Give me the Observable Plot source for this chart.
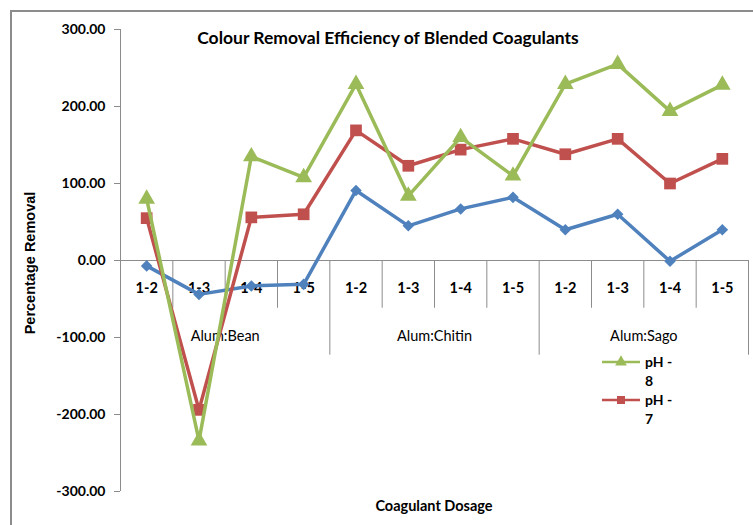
<!DOCTYPE html>
<html>
<head>
<meta charset="utf-8">
<script src="https://cdn.jsdelivr.net/npm/d3@7"></script>
<script src="https://cdn.jsdelivr.net/npm/@observablehq/plot@0.6"></script>
<style>
  body { margin: 0; background: #fff; font-family: Lato, "Open Sans", sans-serif; }
  #wrap { position: relative; width: 753px; height: 525px; overflow: hidden; }
  #frame { position: absolute; left: 10px; top: 10px; width: 800px; height: 600px; border: 2px solid #8c8c8c; box-sizing: border-box; }
  .abs { position: absolute; color: #000; white-space: nowrap; }
  #title { left: 0; width: 776px; top: 27px; text-align: center; font-weight: 700; font-size: 17.5px; }
  #ylab { left: 30px; top: 263px; transform: translate(-50%, -50%) rotate(-90deg); font-family: "Liberation Sans", Arial, sans-serif; font-weight: 700; font-size: 14.5px; }
  #xlab { left: 434px; top: 505px; transform: translate(-50%, -50%); font-weight: 700; font-size: 14.5px; }
  #legend { left: 600px; top: 352px; font-size: 14px; font-weight: 700; }
  .item { display: flex; align-items: flex-start; height: 38px; }
  .item svg { margin-top: 3px; }
  .item span { line-height: 19px; margin-left: 3px; }
  #chart { position: absolute; left: 0; top: 0; }
</style>
</head>
<body>
<div id="wrap">
  <div id="frame"></div>
  <div id="chart"></div>
  <div class="abs" id="title">Colour Removal Efficiency of Blended Coagulants</div>
  <div class="abs" id="ylab">Percentage Removal</div>
  <div class="abs" id="xlab">Coagulant Dosage</div>
  <div class="abs" id="legend"></div>
</div>
<script>
const categories = ["1-2","1-3","1-4","1-5","1-2","1-3","1-4","1-5","1-2","1-3","1-4","1-5"];
const groups = ["Alum:Bean","Alum:Chitin","Alum:Sago"];
const ph8 = [80, -234, 135, 108, 229, 84, 160, 110, 229, 255, 194, 228];
const ph7 = [55, -194, 56, 60, 169, 123, 144, 158, 138, 158, 100, 132];
const ph6 = [-7, -44, -33, -31, 91, 45, 67, 82, 40, 60, -1, 40];
const yTicks = [-300, -200, -100, 0, 100, 200, 300];

const series = [
  {name: "pH - 6", values: ph6, color: "#4F81BD", symbol: "diamond2", r: 5.2, legend: false},
  {name: "pH - 7", values: ph7, color: "#C0504D", symbol: "square", r: 6.6, legend: true},
  {name: "pH - 8", values: ph8, color: "#9BBB59", symbol: "triangle", r: 6.2, legend: true}
];
const data = series.flatMap(s => s.values.map((v, i) => ({i, v, series: s.name, color: s.color, symbol: s.symbol, r: s.r})));

const catBounds = d3.range(1, 13).filter(b => b % 4 !== 0);
const groupBounds = [4, 8, 12];

const marks = [
  Plot.ruleX([0], {y1: -300, y2: 300, stroke: "#8c8c8c", strokeWidth: 1}),
  Plot.ruleY([0], {x1: 0, x2: 12, stroke: "#8c8c8c", strokeWidth: 1}),
  Plot.ruleX(catBounds, {x: d => d, y1: 0, y2: -62, stroke: "#8c8c8c", strokeWidth: 1}),
  Plot.ruleX(groupBounds, {x: d => d, y1: 0, y2: -123, stroke: "#8c8c8c", strokeWidth: 1}),
  Plot.axisY({ticks: yTicks, tickFormat: d => d.toFixed(2), tickSize: 6, tickPadding: 9, stroke: "#8c8c8c", fill: "#000", fontWeight: 700, fontSize: 14, label: null}),
  Plot.text(categories, {x: (d, i) => i + 0.5, y: () => 0, dy: 28, text: d => d, fontSize: 14.5, fontWeight: 700, fill: "#000"}),
  Plot.text(groups, {x: (d, i) => i * 4 + 2, y: () => 0, dy: 76, text: d => d, fontSize: 14.5, fill: "#000"})
];
for (const s of series) {
  const d = data.filter(e => e.series === s.name);
  marks.push(Plot.line(d, {x: e => e.i + 0.5, y: "v", stroke: s.color, strokeWidth: 3.5}));
  marks.push(Plot.dot(d, {x: e => e.i + 0.5, y: "v", symbol: () => s.symbol, fill: s.color, r: s.r, stroke: "none"}));
}

const chart = Plot.plot({
  width: 753,
  height: 525,
  marginLeft: 120,
  marginRight: 5,
  marginTop: 29,
  marginBottom: 34,
  style: {fontFamily: "Lato, 'Open Sans', sans-serif", background: "transparent", overflow: "visible"},
  x: {type: "linear", domain: [0, 12], axis: null},
  y: {domain: [-300, 300], axis: null},
  symbol: {type: "identity"},
  marks
});
document.getElementById("chart").appendChild(chart);

const legend = document.getElementById("legend");
for (const s of [...series].reverse().filter(s => s.legend)) {
  const item = document.createElement("div");
  item.className = "item";
  const path = d3.symbol(s.symbol === "triangle" ? d3.symbolTriangle : d3.symbolSquare, s.symbol === "triangle" ? 60 : 64)();
  item.innerHTML = `<svg width="42" height="14"><line x1="2" x2="40" y1="7" y2="7" stroke="${s.color}" stroke-width="2.5"/><path d="${path}" transform="translate(21,7)" fill="${s.color}"/></svg><span>${s.name.replace(" - ", " -<br>")}</span>`;
  legend.appendChild(item);
}
</script>
</body>
</html>
